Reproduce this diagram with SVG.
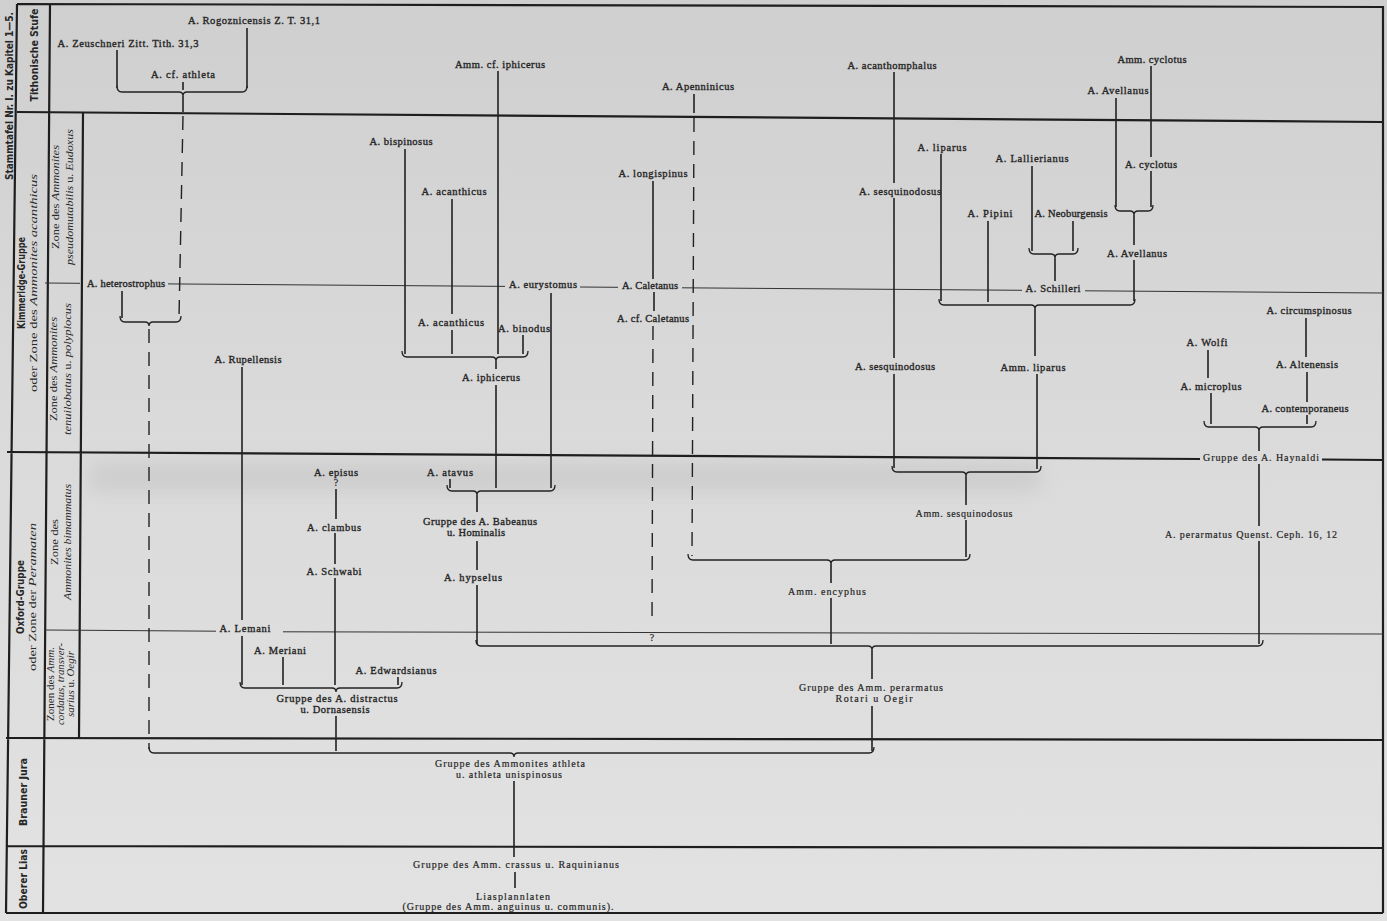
<svg xmlns="http://www.w3.org/2000/svg" width="1387" height="921" viewBox="0 0 1387 921">
<defs>
<linearGradient id="bg" x1="0" y1="0" x2="0" y2="1">
<stop offset="0" stop-color="#cfcfcf"/>
<stop offset="0.45" stop-color="#dadada"/>
<stop offset="1" stop-color="#e2e2e2"/>
</linearGradient>
<filter id="blur" x="-10%" y="-100%" width="120%" height="300%"><feGaussianBlur stdDeviation="9"/></filter>
<style>
.t{font-family:"Liberation Serif","DejaVu Serif",serif;font-size:10.5px;fill:#262626;stroke:#262626;stroke-width:0.35;text-anchor:middle}
.c{font-family:"Liberation Serif","DejaVu Serif",serif;font-size:10px;fill:#262626;stroke:#262626;stroke-width:0.2;text-anchor:middle}
.lab{font-family:"DejaVu Sans Condensed","Liberation Sans",sans-serif;font-weight:bold;font-size:11px;fill:#262626;text-anchor:middle}
.z{font-family:"Liberation Serif","DejaVu Serif",serif;font-size:10.5px;fill:#2a2a2a;text-anchor:middle}
.i{font-style:italic}
.ln{stroke:#222;stroke-width:1.6;fill:none}
.br{stroke:#222;stroke-width:1.3;fill:none}
.ds{stroke:#222;stroke-width:1.4;fill:none;stroke-dasharray:14 9}
.g1{stroke:#1e1e1e;stroke-width:2.2;fill:none}
.g2{stroke:#333;stroke-width:1;fill:none}
</style>
</defs>
<rect width="1387" height="921" fill="url(#bg)"/>
<rect x="90" y="462" width="950" height="30" fill="#a8a8a8" opacity="0.25" filter="url(#blur)"/>

<g id="grid">
<path class="g1" d="M17 4L1383 7 M17 112L1383 122 M7 452L1200 459 M1322 459.5L1383 460 M6 738L1383 740 M6 846L1383 848 M6 913L1383 913 M17 4L6 913 M50 4L43 913 M83 112L79 738 M1383 6L1383 913"/>
<path class="g2" d="M45 283L80 283.3 M168 283.9L505 286.4 M580 287L618 287.3 M682 287.8L1022 290.3 M1085 290.8L1383 293 M45 630L216 631.2 M283 631.8L1383 634"/>
</g>

<g id="labels">
<g id="lab-stammtafel"><text class="lab" font-size="9" transform="translate(13,96) rotate(-90)" textLength="168" lengthAdjust="spacingAndGlyphs">Stammtafel Nr. I. zu Kapitel 1—5.</text></g>
<g id="lab-tithon"><text class="lab" font-size="12" transform="translate(38,55) rotate(-90)" textLength="93" lengthAdjust="spacingAndGlyphs">Tithonische Stufe</text></g>
<g id="lab-kimmeridge">
<text class="lab" transform="translate(25,283) rotate(-90)" textLength="92" lengthAdjust="spacingAndGlyphs">Kimmeridge-Gruppe</text>
<text class="z" transform="translate(37,283) rotate(-90)" textLength="218" lengthAdjust="spacingAndGlyphs">oder Zone des <tspan class="i">Ammonites acanthicus</tspan></text>
</g>
<g id="lab-pseudomut">
<text class="z" transform="translate(59,197) rotate(-90)" textLength="104" lengthAdjust="spacingAndGlyphs">Zone des <tspan class="i">Ammonites</tspan></text>
<text class="z" transform="translate(73,197) rotate(-90)" textLength="136" lengthAdjust="spacingAndGlyphs"><tspan class="i">pseudomutabilis</tspan> u. <tspan class="i">Eudoxus</tspan></text>
</g>
<g id="lab-tenuilob">
<text class="z" transform="translate(57,369) rotate(-90)" textLength="104" lengthAdjust="spacingAndGlyphs">Zone des <tspan class="i">Ammonites</tspan></text>
<text class="z" transform="translate(71,369) rotate(-90)" textLength="132" lengthAdjust="spacingAndGlyphs"><tspan class="i">tenuilobatus</tspan> u. <tspan class="i">polyplocus</tspan></text>
</g>
<g id="lab-oxford">
<text class="lab" transform="translate(24,597) rotate(-90)" textLength="74" lengthAdjust="spacingAndGlyphs">Oxford-Gruppe</text>
<text class="z" transform="translate(36,597) rotate(-90)" textLength="148" lengthAdjust="spacingAndGlyphs">oder Zone der <tspan class="i">Peramaten</tspan></text>
</g>
<g id="lab-bimammatus">
<text class="z" transform="translate(58,542) rotate(-90)" textLength="46" lengthAdjust="spacingAndGlyphs">Zone des</text>
<text class="z i" transform="translate(71,542) rotate(-90)" textLength="116" lengthAdjust="spacingAndGlyphs">Ammonites bimammatus</text>
</g>
<g id="lab-cordatus">
<text class="z" font-size="9.5" transform="translate(54,684) rotate(-90)" textLength="74" lengthAdjust="spacingAndGlyphs">Zonen des <tspan class="i">Amm.</tspan></text>
<text class="z i" font-size="9.5" transform="translate(64,684) rotate(-90)" textLength="82" lengthAdjust="spacingAndGlyphs">cordatus, transver-</text>
<text class="z" font-size="9.5" transform="translate(74,684) rotate(-90)" textLength="66" lengthAdjust="spacingAndGlyphs"><tspan class="i">sarius</tspan> u. <tspan class="i">Oegir</tspan></text>
</g>
<g id="lab-brauner"><text class="lab" transform="translate(27,792) rotate(-90)" textLength="68" lengthAdjust="spacingAndGlyphs">Brauner Jura</text></g>
<g id="lab-lias"><text class="lab" transform="translate(27,879) rotate(-90)" textLength="60" lengthAdjust="spacingAndGlyphs">Oberer Lias</text></g>
</g>

<g id="connectors">
<path class="br" d="M117 86Q117 92 122 92L179 92Q183 92 183 96Q183 92 187 92L242 92Q247 92 247 86"/>
<path class="br" d="M120 316Q120 322 125 322L145 322Q149 322 149 326Q149 322 153 322L176 322Q181 322 181 316"/>
<path class="br" d="M402 351Q402 357 407 357L492 357Q496 357 496 361Q496 357 500 357L523 357Q528 357 528 351"/>
<path class="br" d="M447 485Q447 491 452 491L473 491Q477 491 477 495Q477 491 481 491L550 491Q555 491 555 485"/>
<path class="br" d="M240 682Q240 688 245 688L332 688Q336 688 336 692Q336 688 340 688L397 688Q402 688 402 682"/>
<path class="br" d="M149 747Q149 753 154 753L510 753Q514 753 514 757Q514 753 518 753L869 753Q874 753 874 747"/>
<path class="br" d="M476 640Q476 646 481 646L868 646Q872 646 872 650Q872 646 876 646L1258 646Q1263 646 1263 640"/>
<path class="br" d="M688 554Q688 560 693 560L827 560Q831 560 831 564Q831 560 835 560L965 560Q970 560 970 554"/>
<path class="br" d="M892 466Q892 472 897 472L962 472Q966 472 966 476Q966 472 970 472L1036 472Q1041 472 1041 466"/>
<path class="br" d="M1115 205Q1115 211 1120 211L1130 211Q1134 211 1134 215Q1134 211 1138 211L1148 211Q1153 211 1153 205"/>
<path class="br" d="M1029 248Q1029 254 1034 254L1051 254Q1055 254 1055 258Q1055 254 1059 254L1073 254Q1078 254 1078 248"/>
<path class="br" d="M939 299Q939 305 944 305L1031 305Q1035 305 1035 309Q1035 305 1039 305L1130 305Q1135 305 1135 299"/>
<path class="br" d="M1204 421Q1204 427 1209 427L1255 427Q1259 427 1259 431Q1259 427 1263 427L1311 427Q1316 427 1316 421"/>
<path class="ln" d="M247 28V88 M117 50V88 M183 82V90 M183 96V112 M498 71V354 M694 94V113 M894 72V183 M894 198V358 M894 374V468 M1151 66V157 M1151 171V207 M1116 98V207 M1134 215V245 M1134 260V301 M941 154V301 M1032 166V251 M1073 221V251 M988 221V302 M1055 258V281 M1035 309V356 M1037 374V469"/>
<path class="ln" d="M405 149V354 M452 199V314 M452 330V354 M523 335V354 M496 361V369 M496 385V488 M551 293V488 M653 181V279 M654 292V311 M122 291V318"/>
<path class="ln" d="M242 367V620 M242 636V685 M336 489V519 M335 533V564 M335 578V685 M283 657V685 M398 677V685 M336 716V751 M450 479V488 M477 495V512 M477 541V570 M477 585V644"/>
<path class="ln" d="M1259 431V451 M1259 464V526 M1259 541V644 M966 476V505 M966 520V557 M831 564V583 M831 598V644 M872 650V679 M872 706V751 M514 781V857 M515 872V888 M1208 350V378 M1211 393V424 M1306 318V357 M1307 372V402 M1307 415V424"/>
<path class="ds" d="M183 116L179 318 M694 118L692 556 M653 326L652 624 M149 329L149 749"/>
</g>

<g id="nodes">
<g id="n-rogoznicensis"><text class="t" x="254" y="24" textLength="132" lengthAdjust="spacing">A. Rogoznicensis Z. T. 31,1</text></g>
<g id="n-zeuschneri"><text class="t" x="128" y="47" textLength="141" lengthAdjust="spacing">A. Zeuschneri Zitt. Tith. 31,3</text></g>
<g id="n-cf-athleta"><text class="t" x="183" y="78" textLength="64" lengthAdjust="spacing">A. cf. athleta</text></g>
<g id="n-cf-iphicerus"><text class="t" x="500" y="68" textLength="90" lengthAdjust="spacing">Amm. cf. iphicerus</text></g>
<g id="n-apenninicus"><text class="t" x="698" y="90" textLength="72" lengthAdjust="spacing">A. Apenninicus</text></g>
<g id="n-acanthomphalus"><text class="t" x="892" y="69" textLength="89" lengthAdjust="spacing">A. acanthomphalus</text></g>
<g id="n-amm-cyclotus"><text class="t" x="1152" y="63" textLength="69" lengthAdjust="spacing">Amm. cyclotus</text></g>
<g id="n-avellanus-1"><text class="t" x="1118" y="94" textLength="61" lengthAdjust="spacing">A. Avellanus</text></g>
<g id="n-bispinosus"><text class="t" x="401" y="145" textLength="63" lengthAdjust="spacing">A. bispinosus</text></g>
<g id="n-acanthicus-1"><text class="t" x="454" y="195" textLength="65" lengthAdjust="spacing">A. acanthicus</text></g>
<g id="n-acanthicus-2"><text class="t" x="451" y="326" textLength="66" lengthAdjust="spacing">A. acanthicus</text></g>
<g id="n-binodus"><text class="t" x="524" y="332" textLength="52" lengthAdjust="spacing">A. binodus</text></g>
<g id="n-iphicerus"><text class="t" x="491" y="381" textLength="58" lengthAdjust="spacing">A. iphicerus</text></g>
<g id="n-eurystomus"><text class="t" x="543" y="288" textLength="68" lengthAdjust="spacing">A. eurystomus</text></g>
<g id="n-longispinus"><text class="t" x="653" y="177" textLength="69" lengthAdjust="spacing">A. longispinus</text></g>
<g id="n-caletanus"><text class="t" x="650" y="289" textLength="56" lengthAdjust="spacing">A. Caletanus</text></g>
<g id="n-cf-caletanus"><text class="t" x="653" y="322" textLength="72" lengthAdjust="spacing">A. cf. Caletanus</text></g>
<g id="n-heterostrophus"><text class="t" x="126" y="287" textLength="78" lengthAdjust="spacing">A. heterostrophus</text></g>
<g id="n-rupellensis"><text class="t" x="248" y="363" textLength="67" lengthAdjust="spacing">A. Rupellensis</text></g>
<g id="n-sesquinodosus-1"><text class="t" x="900" y="195" textLength="82" lengthAdjust="spacing">A. sesquinodosus</text></g>
<g id="n-sesquinodosus-2"><text class="t" x="895" y="370" textLength="80" lengthAdjust="spacing">A. sesquinodosus</text></g>
<g id="n-liparus"><text class="t" x="942" y="151" textLength="49" lengthAdjust="spacing">A. liparus</text></g>
<g id="n-lallierianus"><text class="t" x="1032" y="162" textLength="73" lengthAdjust="spacing">A. Lallierianus</text></g>
<g id="n-pipini"><text class="t" x="990" y="217" textLength="45" lengthAdjust="spacing">A. Pipini</text></g>
<g id="n-neoburgensis"><text class="t" x="1071" y="217" textLength="73" lengthAdjust="spacing">A. Neoburgensis</text></g>
<g id="n-cyclotus"><text class="t" x="1151" y="168" textLength="52" lengthAdjust="spacing">A. cyclotus</text></g>
<g id="n-avellanus-2"><text class="t" x="1137" y="257" textLength="60" lengthAdjust="spacing">A. Avellanus</text></g>
<g id="n-schilleri"><text class="t" x="1053" y="292" textLength="55" lengthAdjust="spacing">A. Schilleri</text></g>
<g id="n-amm-liparus"><text class="t" x="1033" y="371" textLength="65" lengthAdjust="spacing">Amm. liparus</text></g>
<g id="n-circumspinosus"><text class="t" x="1309" y="314" textLength="85" lengthAdjust="spacing">A. circumspinosus</text></g>
<g id="n-wolfi"><text class="t" x="1207" y="346" textLength="41" lengthAdjust="spacing">A. Wolfi</text></g>
<g id="n-altenensis"><text class="t" x="1307" y="368" textLength="62" lengthAdjust="spacing">A. Altenensis</text></g>
<g id="n-microplus"><text class="t" x="1211" y="390" textLength="61" lengthAdjust="spacing">A. microplus</text></g>
<g id="n-contemporaneus"><text class="t" x="1305" y="412" textLength="87" lengthAdjust="spacing">A. contemporaneus</text></g>
<g id="n-haynaldi"><text class="c" x="1261" y="461" textLength="116" lengthAdjust="spacing">Gruppe des A. Haynaldi</text></g>
<g id="n-amm-sesquinodosus"><text class="c" x="964" y="517" textLength="97" lengthAdjust="spacing">Amm. sesquinodosus</text></g>
<g id="n-perarmatus-q"><text class="c" x="1251" y="538" textLength="172" lengthAdjust="spacing">A. perarmatus Quenst. Ceph. 16, 12</text></g>
<g id="n-encyphus"><text class="c" x="827" y="595" textLength="78" lengthAdjust="spacing">Amm. encyphus</text></g>
<g id="n-q"><text class="c" x="652" y="641" font-size="8">?</text></g>
<g id="n-perarmatus-grp"><text class="c" x="871" y="691" textLength="144" lengthAdjust="spacing">Gruppe des Amm. perarmatus</text><text class="c" x="874" y="702" textLength="77" lengthAdjust="spacing">Rotari u  Oegir</text></g>
<g id="n-episus"><text class="t" x="336" y="476" textLength="44" lengthAdjust="spacing">A. episus</text><text class="c" x="336" y="486" font-size="8">?</text></g>
<g id="n-clambus"><text class="t" x="334" y="531" textLength="54" lengthAdjust="spacing">A. clambus</text></g>
<g id="n-schwabi"><text class="t" x="334" y="575" textLength="55" lengthAdjust="spacing">A. Schwabi</text></g>
<g id="n-lemani"><text class="t" x="245" y="632" textLength="51" lengthAdjust="spacing">A. Lemani</text></g>
<g id="n-meriani"><text class="t" x="280" y="654" textLength="52" lengthAdjust="spacing">A. Meriani</text></g>
<g id="n-edwardsianus"><text class="t" x="396" y="674" textLength="81" lengthAdjust="spacing">A. Edwardsianus</text></g>
<g id="n-distractus"><text class="t" x="337" y="702" textLength="121" lengthAdjust="spacing">Gruppe des A. distractus</text><text class="t" x="335" y="713" textLength="69" lengthAdjust="spacing">u. Dornasensis</text></g>
<g id="n-atavus"><text class="t" x="450" y="476" textLength="46" lengthAdjust="spacing">A. atavus</text></g>
<g id="n-babeanus"><text class="t" x="480" y="525" textLength="114" lengthAdjust="spacing">Gruppe des A. Babeanus</text><text class="t" x="476" y="536" textLength="58" lengthAdjust="spacing">u. Hominalis</text></g>
<g id="n-hypselus"><text class="t" x="473" y="581" textLength="58" lengthAdjust="spacing">A. hypselus</text></g>
<g id="n-athleta-grp"><text class="c" x="510" y="767" textLength="150" lengthAdjust="spacing">Gruppe des Ammonites athleta</text><text class="c" x="509" y="778" textLength="106" lengthAdjust="spacing">u. athleta unispinosus</text></g>
<g id="n-crassus"><text class="c" x="516" y="868" textLength="206" lengthAdjust="spacing">Gruppe des Amm. crassus u. Raquinianus</text></g>
<g id="n-liasplannlaten"><text class="c" x="513" y="900" textLength="74" lengthAdjust="spacing">Liasplannlaten</text><text class="c" x="508" y="910" textLength="211" lengthAdjust="spacing">(Gruppe des Amm. anguinus u. communis).</text></g>
</g>
</svg>
